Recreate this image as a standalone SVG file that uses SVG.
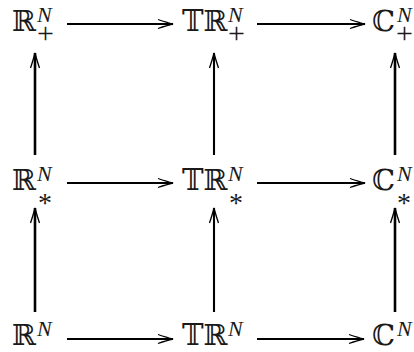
<svg xmlns="http://www.w3.org/2000/svg" width="414" height="352" viewBox="0 0 414 352">
<defs>
<style>
.bb{font-family:"DejaVu Serif","Liberation Serif",serif;font-size:29px;fill:#1a1a1a}
.sup{font-family:"Liberation Serif",serif;font-style:italic;font-size:22px}
.sub{font-family:"Liberation Serif",serif;font-size:30px}
.ast{font-family:"Liberation Serif",serif;font-size:28px}
.h{stroke:#000;stroke-width:1.8;fill:none}
.v{stroke:#000;stroke-width:2.6;fill:none}
.vm{stroke:#000;stroke-width:2.1;fill:none}
</style>
<marker id="ah" markerUnits="userSpaceOnUse" markerWidth="20" markerHeight="12" refX="16" refY="6" orient="auto" viewBox="0 0 20 12">
<path d="M1,1.5 Q10,4.5 16,6 Q10,7.5 1,10.5" fill="none" stroke="#000" stroke-width="1.3"/>
</marker>
</defs>
<g id="n_Rplus"><text class="bb" x="12" y="31">ℝ<tspan class="sup" x="37" y="22">N</tspan><tspan class="sub" x="37" y="43">+</tspan></text></g>
<g id="n_TRplus"><text class="bb" x="182" y="31">𝕋ℝ<tspan class="sup" x="228" y="22">N</tspan><tspan class="sub" x="228" y="43">+</tspan></text></g>
<g id="n_Cplus"><text class="bb" x="372" y="31">ℂ<tspan class="sup" x="397" y="22">N</tspan><tspan class="sub" x="396" y="43">+</tspan></text></g>
<g id="n_Rstar"><text class="bb" x="12" y="190">ℝ<tspan class="sup" x="37" y="181">N</tspan><tspan class="ast" x="38" y="212">*</tspan></text></g>
<g id="n_TRstar"><text class="bb" x="182" y="190">𝕋ℝ<tspan class="sup" x="228" y="181">N</tspan><tspan class="ast" x="229" y="212">*</tspan></text></g>
<g id="n_Cstar"><text class="bb" x="372" y="190">ℂ<tspan class="sup" x="397" y="181">N</tspan><tspan class="ast" x="397" y="212">*</tspan></text></g>
<g id="n_R"><text class="bb" x="12" y="345">ℝ<tspan class="sup" x="37" y="336">N</tspan></text></g>
<g id="n_TR"><text class="bb" x="182" y="345">𝕋ℝ<tspan class="sup" x="228" y="336">N</tspan></text></g>
<g id="n_C"><text class="bb" x="372" y="345">ℂ<tspan class="sup" x="397" y="336">N</tspan></text></g>
<g id="connectors">
<line class="h" x1="67" y1="24" x2="173" y2="24" marker-end="url(#ah)"/>
<line class="h" x1="257" y1="24" x2="365" y2="24" marker-end="url(#ah)"/>
<line class="h" x1="67" y1="183" x2="173" y2="183" marker-end="url(#ah)"/>
<line class="h" x1="257" y1="183" x2="365" y2="183" marker-end="url(#ah)"/>
<line class="h" x1="67" y1="339" x2="173" y2="339" marker-end="url(#ah)"/>
<line class="h" x1="257" y1="339" x2="364" y2="339" marker-end="url(#ah)"/>
<line class="v" x1="35" y1="155" x2="35" y2="53" marker-end="url(#ah)"/>
<line class="vm" x1="214" y1="155" x2="214" y2="53" marker-end="url(#ah)"/>
<line class="v" x1="395" y1="155" x2="395" y2="53" marker-end="url(#ah)"/>
<line class="v" x1="35" y1="312" x2="35" y2="208" marker-end="url(#ah)"/>
<line class="vm" x1="214" y1="312" x2="214" y2="208" marker-end="url(#ah)"/>
<line class="v" x1="395" y1="312" x2="395" y2="208" marker-end="url(#ah)"/>
</g>
</svg>
